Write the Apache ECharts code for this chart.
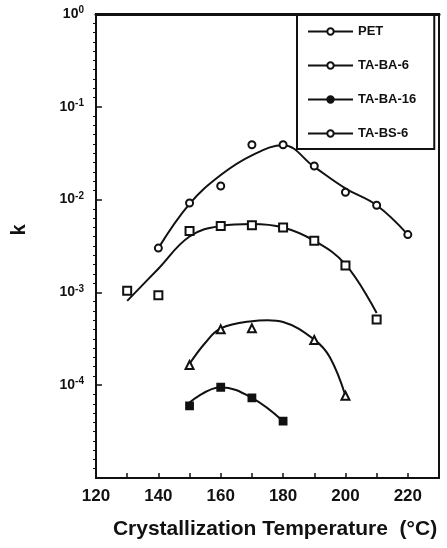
<!DOCTYPE html>
<html>
<head>
<meta charset="utf-8">
<script src="https://cdn.jsdelivr.net/npm/echarts@6/dist/echarts.min.js"></script>
<style>
  html, body { margin: 0; padding: 0; background: #fff; }
  #chart { width: 447px; height: 548px; }
</style>
</head>
<body>
<div id="chart"></div>
<script>
// Crystallization rate constant k versus crystallization temperature
const seriesNames = ['PET', 'TA-BA-6', 'TA-BA-16', 'TA-BS-6'];

// Measured points
const petT = [140, 150, 160, 170, 180, 190, 200, 210, 220];
const petK = [3.0e-3, 9.2e-3, 1.4e-2, 3.9e-2, 3.9e-2, 2.3e-2, 1.2e-2, 8.7e-3, 4.2e-3];

const ba6T = [130, 140, 150, 160, 170, 180, 190, 200, 210];
const ba6K = [1.04e-3, 9.3e-4, 4.6e-3, 5.2e-3, 5.3e-3, 5.0e-3, 3.6e-3, 1.95e-3, 5.1e-4];

const ba16T = [150, 160, 170, 180];
const ba16K = [6.0e-5, 9.5e-5, 7.3e-5, 4.1e-5];

const bs6T = [150, 160, 170, 190, 200];
const bs6K = [1.65e-4, 4.0e-4, 4.1e-4, 3.07e-4, 7.7e-5];

// Fitted trend curves
const petFitT = [140, 150, 160, 170, 180, 190, 200, 210, 220];
const petFitK = [3.0e-3, 9.0e-3, 1.84e-2, 3.0e-2, 3.85e-2, 2.25e-2, 1.32e-2, 8.7e-3, 4.2e-3];

const ba6FitT = [130, 140, 150, 160, 170, 180, 190, 200, 210];
const ba6FitK = [8.1e-4, 1.8e-3, 4.0e-3, 5.2e-3, 5.45e-3, 5.0e-3, 3.6e-3, 2.0e-3, 6.0e-4];

const ba16FitT = [150, 160, 170, 180];
const ba16FitK = [6.5e-5, 9.5e-5, 7.3e-5, 4.1e-5];

const bs6FitT = [150, 155, 160, 170, 175, 180, 190, 195, 200];
const bs6FitK = [1.7e-4, 2.85e-4, 4.1e-4, 4.9e-4, 5.0e-4, 4.8e-4, 3.1e-4, 2.0e-4, 7.7e-5];

// Axis tick labels
const xTickLabels = [120, 140, 160, 180, 200, 220];
const yTickExponents = ['0', '-1', '-2', '-3', '-4'];

const pairs = (xs, ys) => xs.map((x, i) => [x, ys[i]]);
const INK = '#111';
const FONT = 'Liberation Sans, Arial, sans-serif';

function fitLine(name, xs, ys, legendSymbol) {
  return {
    name: name,
    type: 'line',
    data: pairs(xs, ys),
    smooth: 0.4,
    showSymbol: false,
    symbol: legendSymbol,
    symbolSize: 6,
    lineStyle: { color: INK, width: 2 },
    itemStyle: { color: INK, borderColor: INK, borderWidth: 1.5 },
    silent: true,
    z: 2
  };
}

function markers(name, xs, ys, symbol, size) {
  return {
    name: name,
    type: 'scatter',
    data: pairs(xs, ys),
    symbol: symbol,
    symbolSize: size,
    itemStyle: { color: INK, borderColor: INK, borderWidth: 1.8, opacity: 1 },
    z: 3
  };
}

const chart = echarts.init(document.getElementById('chart'), null, { renderer: 'canvas' });

chart.setOption({
  animation: false,
  backgroundColor: '#fff',
  grid: {
    left: 96, right: 8, top: 14, bottom: 70,
    show: true, borderColor: INK, borderWidth: 2
  },
  legend: {
    data: seriesNames,
    orient: 'vertical',
    left: 297,
    top: 15,
    itemWidth: 45,
    itemHeight: 8,
    itemGap: 21,
    padding: [10, 18, 9, 10],
    borderColor: INK,
    borderWidth: 2,
    backgroundColor: '#fff',
    selectedMode: false,
    textStyle: { color: INK, fontFamily: FONT, fontWeight: 'bold', fontSize: 13, lineHeight: 13 }
  },
  xAxis: [{
    type: 'value',
    min: 120,
    max: 230,
    interval: 10,
    name: 'Crystallization Temperature  (°C)',
    nameLocation: 'middle',
    nameGap: 41,
    nameTextStyle: { color: INK, fontFamily: FONT, fontWeight: 'bold', fontSize: 21, padding: [0, 0, 0, 15] },
    axisLine: { onZero: false, lineStyle: { color: INK, width: 2 } },
    axisTick: { inside: true, length: 5, lineStyle: { color: INK, width: 1.5 } },
    axisLabel: {
      interval: 0,
      margin: 10,
      color: INK,
      fontFamily: FONT,
      fontWeight: 'bold',
      fontSize: 17,
      formatter: v => (xTickLabels.indexOf(v) >= 0 ? String(v) : '')
    },
    splitLine: { show: false }
  }, {
    type: 'value',
    position: 'top',
    min: 120,
    max: 230,
    axisLine: { onZero: false, lineStyle: { color: INK, width: 3 } },
    axisTick: { show: false },
    axisLabel: { show: false },
    splitLine: { show: false }
  }],
  yAxis: [{
    type: 'log',
    logBase: 10,
    min: 1e-5,
    max: 1,
    name: 'k',
    nameLocation: 'middle',
    nameGap: 67,
    nameRotate: 90,
    nameTextStyle: { color: INK, fontFamily: FONT, fontWeight: 'bold', fontSize: 20, padding: [0, 0, 0, 32] },
    axisLine: { onZero: false, lineStyle: { color: INK, width: 2 } },
    axisTick: { inside: true, length: 6, lineStyle: { color: INK, width: 1.5 } },
    axisLabel: {
      margin: 12,
      color: INK,
      fontFamily: FONT,
      formatter: v => {
        const idx = Math.round(-Math.log10(v));
        const exp = yTickExponents[idx];
        return exp === undefined ? '' : '{b|10}{s|' + exp + '}';
      },
      rich: {
        b: { fontFamily: FONT, fontWeight: 'bold', fontSize: 14, color: INK },
        s: { fontFamily: FONT, fontWeight: 'bold', fontSize: 10, color: INK, verticalAlign: 'top', padding: [0, 0, 7, 0] }
      }
    },
    splitLine: { show: false }
  }, {
    // decade exponent scale, used only for the fine inner ticks on the left edge
    type: 'value',
    position: 'left',
    min: -5,
    max: 0,
    interval: 1,
    axisLine: { show: false, onZero: false },
    axisTick: { show: false },
    axisLabel: { show: false },
    minorTick: { show: true, splitNumber: 10, length: 3, lineStyle: { color: INK, width: 1 } },
    splitLine: { show: false }
  }],
  series: [
    fitLine('PET', petFitT, petFitK, 'emptyCircle'),
    fitLine('TA-BA-6', ba6FitT, ba6FitK, 'emptyCircle'),
    fitLine('TA-BA-16', ba16FitT, ba16FitK, 'circle'),
    fitLine('TA-BS-6', bs6FitT, bs6FitK, 'emptyCircle'),
    markers('PET', petT, petK, 'emptyCircle', 7),
    markers('TA-BA-6', ba6T, ba6K, 'emptyRect', 8),
    markers('TA-BA-16', ba16T, ba16K, 'rect', 7),
    markers('TA-BS-6', bs6T, bs6K, 'emptyTriangle', 8)
  ]
});
</script>
</body>
</html>
